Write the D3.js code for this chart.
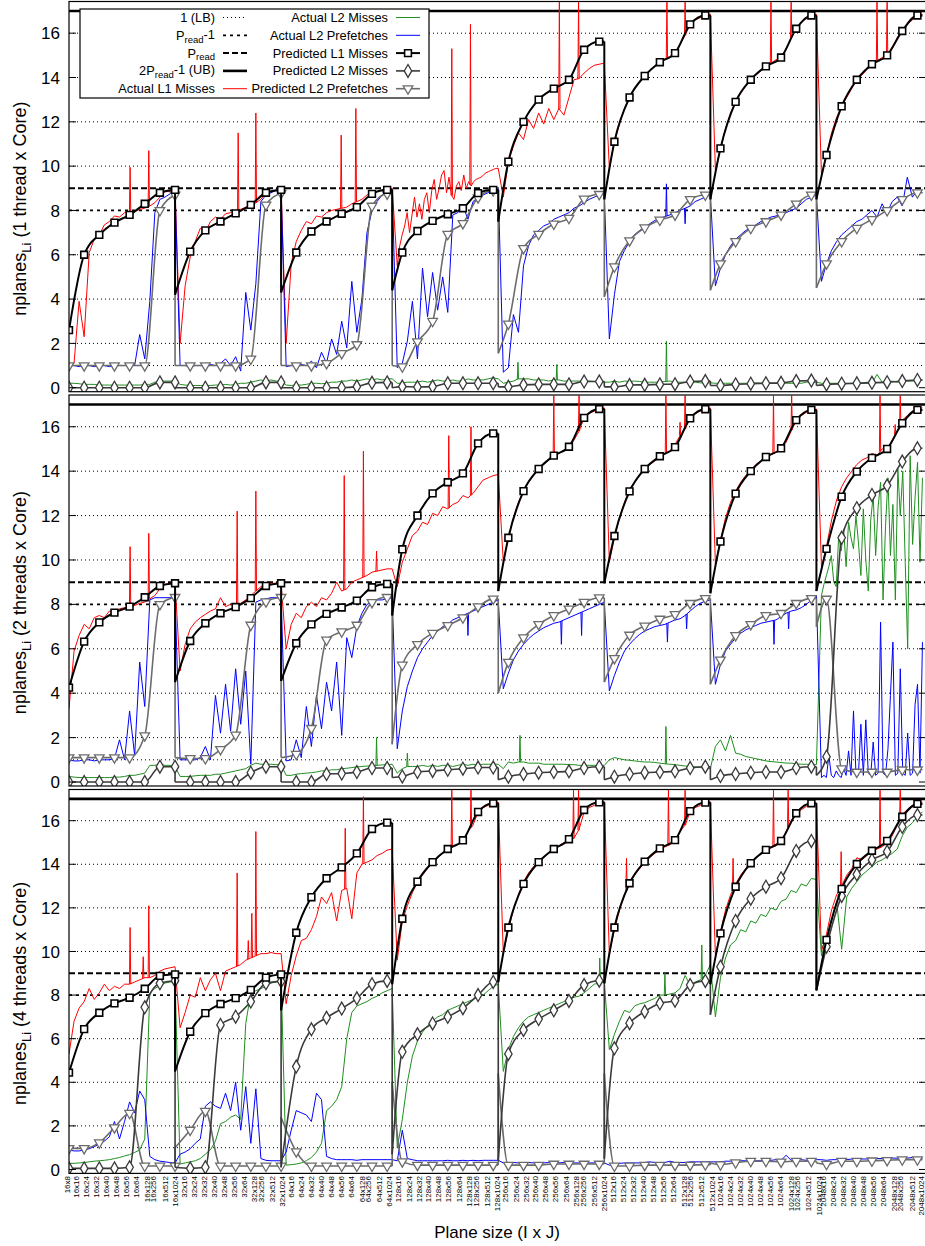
<!DOCTYPE html>
<html>
<head>
<meta charset="utf-8">
<script src="https://cdn.jsdelivr.net/npm/d3@7"></script>
<style>
body { margin: 0; background: #fff; }
text { font-family: "Liberation Sans", Arial, sans-serif; }
</style>
</head>
<body>
<div id="chart"></div>
<script>
const width = 925, height = 1246;

// x axis: plane sizes I x J
const groupsI = [16, 32, 64, 128, 256, 512, 1024, 2048];
const colsJ = [16, 24, 32, 40, 48, 56, 64, 128, 256, 512, 1024];
// sample index of the first labelled size of each I group, offset of each J inside a group
const groupStarts = [1.5, 22.8, 44.0, 65.3, 86.5, 107.8, 129.0, 149.4];
const colOffsets = [0, 2, 4, 5.9, 7.9, 9.9, 11.9, 14, 15.3, 17.5, 19.5];
const firstLabel = { name: '16x8', s: -0.4 };
// sample index where each I group starts / ends
const groupBounds = [0, 21, 42, 64, 85, 106, 127, 148, 169];
const markerStep = 3;

const gridValues = [2, 4, 6, 10, 12, 14, 16];
const yTicks = [0, 2, 4, 6, 8, 10, 12, 14, 16];
const refValues = { lb: 1, pr1: 8, pr: 9, ub: 17 };

// ---------- 1 thread x Core ----------
const t1ActL1 = [
  [1.0, 1.1, 3.9, 2.3, 6.1, 6.7, 6.9, 7.35, 7.5, 7.75, 7.7, 7.9, 7.9, 7.95, 8.05, 8.1, 8.2, 8.35, 8.6, 8.85, 8.85, 8.95],
  [2.0, 4.6, 5.9, 6.6, 7.2, 7.0, 7.5, 7.7, 7.6, 7.85, 7.9, 8.0, 8.05, 8.15, 8.1, 8.35, 8.5, 8.8, 8.85, 8.9, 8.95],
  [2.0, 5.6, 6.6, 7.1, 7.5, 7.4, 7.75, 7.7, 7.9, 8.0, 8.05, 8.1, 8.15, 8.3, 8.4, 8.5, 8.7, 8.8, 8.85, 8.9, 8.95, 9.0],
  [5.5, 6.4, 6.9, 7.3, 7.9, 7.0, 7.8, 8.6, 7.7, 8.3, 7.6, 8.5, 8.8, 7.9, 8.9, 9.4, 8.5, 9.0, 9.6, 9.8, 8.8, 9.5, 8.7, 8.5, 9.1, 9.3, 8.9, 9.6, 9.0, 9.3, 9.1, 9.3, 9.4, 9.45, 9.5, 9.6, 9.7, 9.75, 9.8, 9.85, 9.9, 9.9],
  [8.6, 10.2, 10.9, 11.5, 11.2, 12.1, 11.7, 12.4, 11.9, 12.6, 12.1, 12.6, 12.3, 13.1, 13.9, 13.95, 14.2, 14.4, 14.55, 14.6, 14.65],
  [9.9, 11.1, 11.9, 12.6, 13.1, 13.5, 13.8, 14.07, 14.3, 14.5, 14.69, 14.85, 14.95, 15.1, 15.5, 15.9, 16.4, 16.6, 16.7, 16.8, 16.85],
  [9.8, 10.8, 11.7, 12.4, 12.9, 13.3, 13.6, 13.9, 14.1, 14.3, 14.5, 14.65, 14.8, 14.9, 15.3, 15.8, 16.2, 16.5, 16.65, 16.8, 16.85],
  [9.6, 10.5, 11.5, 12.2, 12.7, 13.1, 13.5, 13.9, 14.1, 14.35, 14.6, 14.75, 14.9, 15.0, 15.3, 15.8, 16.1, 16.4, 16.6, 16.8, 16.85]
];
const t1ActL2m = [
  [0.2, 0.2, 0.18, 0.15, 0.15, 0.15, 0.12, 0.12, 0.12, 0.12, 0.12, 0.12, 0.12, 0.12, 0.12, 0.15, 0.15, 0.25, 0.3, 0.3, 0.3, 0.3],
  [0.15, 0.12, 0.1, 0.1, 0.1, 0.1, 0.1, 0.12, 0.12, 0.15, 0.12, 0.15, 0.2, 0.2, 0.25, 0.3, 0.35, 0.3, 0.35, 0.3, 0.3],
  [0.12, 0.1, 0.12, 0.12, 0.15, 0.2, 0.2, 0.18, 0.2, 0.25, 0.25, 0.3, 0.3, 0.35, 0.3, 0.35, 0.4, 0.35, 0.4, 0.35, 0.4, 0.4],
  [0.2, 0.2, 0.25, 0.25, 0.25, 0.3, 0.25, 0.3, 0.35, 0.3, 0.3, 0.35, 0.3, 0.3, 0.4, 0.35, 0.35, 0.35, 0.4, 0.45, 0.4],
  [0.2, 0.25, 0.3, 0.4, 0.4, 0.4, 0.35, 0.35, 0.35, 0.3, 0.35, 0.35, 0.3, 0.3, 0.3, 0.3, 0.3, 0.3, 0.28, 0.25, 0.25],
  [0.25, 0.3, 0.25, 0.3, 0.28, 0.3, 0.28, 0.25, 0.25, 0.25, 0.25, 0.28, 0.3, 0.25, 0.25, 0.25, 0.25, 0.25, 0.22, 0.22, 0.22],
  [0.2, 0.2, 0.2, 0.2, 0.2, 0.2, 0.2, 0.2, 0.22, 0.2, 0.2, 0.2, 0.2, 0.2, 0.2, 0.2, 0.2, 0.2, 0.25, 0.25, 0.25],
  [0.2, 0.2, 0.2, 0.2, 0.2, 0.2, 0.2, 0.25, 0.2, 0.25, 0.2, 0.6, 0.25, 0.25, 0.3, 0.25, 0.3, 0.3, 0.3, 0.3, 0.35]
];
const t1ActL2p = [
  [1.0, 1.0, 0.95, 1.0, 1.0, 0.95, 1.0, 1.0, 0.95, 1.0, 1.0, 1.0, 1.05, 1.0, 2.4, 1.3, 3.9, 7.9, 8.5, 8.6, 8.75, 8.9],
  [1.0, 1.0, 0.95, 1.0, 1.0, 1.0, 1.05, 1.0, 1.1, 1.3, 1.0, 1.4, 0.75, 4.3, 2.6, 4.7, 8.4, 8.7, 8.8, 8.9, 8.95],
  [0.95, 1.0, 1.0, 1.05, 1.0, 1.2, 0.9, 1.6, 1.1, 2.2, 1.5, 3.0, 1.8, 4.8, 2.5, 4.0, 7.0, 8.0, 8.4, 8.7, 8.85, 8.95],
  [0.9, 1.1, 2.1, 3.9, 1.3, 5.4, 3.2, 5.2, 3.5, 5.0, 3.4, 7.8, 7.9, 8.2, 7.6, 8.4, 8.6, 8.7, 8.8, 8.9, 9.0],
  [0.7, 0.9, 3.3, 2.5, 5.5, 6.4, 6.9, 7.1, 7.3, 7.4, 7.6, 7.7, 7.8, 7.9, 8.1, 8.2, 8.35, 8.5, 8.6, 8.7, 8.75],
  [2.2, 4.2, 5.7, 6.2, 6.6, 6.9, 7.1, 7.25, 7.4, 7.55, 7.65, 7.72, 7.8, 7.9, 8.0, 8.1, 8.2, 8.4, 8.5, 8.6, 8.7],
  [4.6, 5.4, 6.0, 6.4, 6.7, 6.9, 7.1, 7.2, 7.35, 7.5, 7.6, 7.7, 7.75, 7.85, 7.9, 8.0, 8.1, 8.3, 8.5, 8.6, 8.7],
  [4.8, 5.6, 6.2, 6.6, 6.9, 7.1, 7.3, 7.5, 7.6, 7.8, 8.0, 7.7, 8.3, 7.9, 8.4, 8.6, 8.2, 9.5, 8.6, 8.9, 8.8]
];
// narrow spikes: [sample index, peak value]
const t1SpikesL1 = [[12.1, 9.95], [15.8, 10.7], [33.5, 11.5], [37.0, 12.4], [53.9, 11.4], [56.8, 12.6], [75.8, 15.3], [79.5, 16.4], [97.1, 17.4], [100.9, 17.4], [118.4, 17.4], [122.0, 17.4], [139.0, 17.4], [143.0, 17.4], [160.0, 17.4], [162.0, 17.4]];
const t1SpikesL2m = [[88.9, 1.15], [96.6, 1.05], [118.3, 2.1]];
const t1SpikesL2p = [[118.3, 9.2], [122.0, 7.4]];
// predicted: first value at the group start, then one value per marker
const t1PredL1 = [
  [2.6, 2.6, 6.0, 6.9, 7.45, 7.8, 8.3, 8.8, 8.93],
  [4.2, 6.14, 7.1, 7.5, 7.87, 8.25, 8.8, 8.93],
  [4.3, 6.1, 7.05, 7.5, 7.85, 8.15, 8.75, 8.93],
  [4.4, 6.1, 7.07, 7.53, 7.83, 8.1, 8.78, 8.93],
  [7.5, 10.2, 12.0, 13.0, 13.5, 13.9, 15.25, 15.62],
  [8.5, 11.1, 13.1, 14.07, 14.69, 15.1, 16.4, 16.8],
  [8.5, 10.8, 12.9, 13.9, 14.5, 14.9, 16.2, 16.8],
  [8.5, 10.5, 12.7, 13.9, 14.6, 15.0, 16.1, 16.8]
];
const t1PredL2m = [
  [0, 0, 0, 0, 0, 0, 0, 0.24, 0.24],
  [0, 0, 0, 0, 0, 0, 0.24, 0.24],
  [0, 0, 0, 0, 0, 0.05, 0.22, 0.24],
  [0, 0.05, 0.03, 0.05, 0.2, 0.2, 0.2, 0.2],
  [0.04, 0.04, 0.13, 0.15, 0.15, 0.15, 0.28, 0.28],
  [0.04, 0.04, 0.12, 0.13, 0.15, 0.16, 0.28, 0.3],
  [0.1, 0.1, 0.15, 0.18, 0.2, 0.22, 0.3, 0.32],
  [0.1, 0.15, 0.18, 0.2, 0.22, 0.25, 0.3, 0.35]
];
const t1PredL2p = [
  [1, 1, 1, 1, 1, 1, 1, 8.0, 8.7],
  [1.0, 1.0, 1.0, 1.0, 1.0, 1.3, 8.25, 8.78],
  [1.0, 1.0, 1.0, 1.1, 1.55, 1.95, 8.2, 8.75],
  [1.0, 0.95, 2.08, 3.0, 6.93, 7.42, 8.58, 8.9],
  [1.55, 2.88, 6.29, 6.93, 7.39, 7.65, 8.52, 8.73],
  [4.1, 5.46, 6.64, 7.22, 7.57, 7.8, 8.5, 8.7],
  [4.4, 5.6, 6.6, 7.2, 7.5, 7.8, 8.3, 8.7],
  [4.5, 5.6, 6.6, 7.2, 7.6, 8.0, 8.5, 8.8]
];

// ---------- 2 threads x Core ----------
const t2ActL1 = [
  [3.3, 5.9, 6.6, 7.1, 6.9, 7.4, 7.5, 7.4, 7.7, 7.65, 7.8, 7.85, 7.9, 7.95, 8.05, 8.1, 8.25, 8.4, 8.7, 8.9, 8.95, 9.0],
  [5.0, 6.2, 6.9, 7.2, 7.4, 7.55, 7.7, 7.8, 8.3, 7.9, 8.0, 8.0, 8.05, 8.2, 8.4, 8.6, 8.8, 8.9, 8.95, 8.95, 8.95],
  [6.0, 7.1, 7.6, 7.4, 7.9, 8.1, 7.9, 8.3, 8.2, 8.5, 9.0, 8.6, 8.7, 9.0, 9.1, 9.2, 9.3, 9.45, 9.5, 9.55, 9.6, 9.6],
  [8.8, 9.9, 10.5, 11.1, 11.3, 11.7, 11.6, 12.1, 12.0, 12.4, 12.3, 12.5, 12.6, 12.9, 12.8, 13.0, 13.3, 13.6, 13.7, 13.8, 13.85],
  [9.9, 11.0, 11.9, 12.6, 13.1, 13.5, 13.8, 14.1, 14.3, 14.5, 14.65, 14.8, 14.95, 15.1, 15.4, 15.8, 16.4, 16.6, 16.7, 16.8, 16.85],
  [9.9, 11.0, 11.9, 12.6, 13.2, 13.5, 13.8, 14.05, 14.3, 14.45, 14.65, 14.8, 14.9, 15.2, 15.6, 15.9, 16.4, 16.6, 16.7, 16.8, 16.85],
  [9.8, 10.9, 11.9, 12.6, 13.1, 13.5, 13.8, 14.05, 14.3, 14.45, 14.6, 14.75, 14.85, 15.05, 15.3, 15.8, 16.3, 16.5, 16.65, 16.75, 16.8],
  [9.7, 10.6, 11.8, 12.7, 13.3, 13.7, 14.0, 14.3, 14.5, 14.6, 14.8, 14.7, 15.0, 15.0, 15.4, 15.8, 16.3, 16.5, 16.7, 16.8, 16.85]
];
const t2ActL2m = [
  [0.25, 0.22, 0.2, 0.2, 0.2, 0.2, 0.2, 0.2, 0.2, 0.22, 0.22, 0.25, 0.3, 0.3, 0.35, 0.4, 0.75, 0.75, 0.8, 0.75, 0.75, 0.7],
  [0.25, 0.25, 0.25, 0.28, 0.3, 0.3, 0.3, 0.35, 0.35, 0.4, 0.45, 0.5, 0.55, 0.6, 0.75, 0.85, 0.8, 0.8, 0.8, 0.78, 0.78],
  [0.3, 0.3, 0.35, 0.38, 0.4, 0.42, 0.45, 0.5, 0.5, 0.55, 0.55, 0.6, 0.62, 0.65, 0.68, 0.7, 0.72, 0.72, 0.75, 0.77, 0.78, 0.8],
  [0.4, 0.6, 0.7, 0.7, 0.7, 0.75, 0.7, 0.75, 0.7, 0.75, 0.75, 0.7, 0.75, 0.8, 0.75, 0.8, 0.75, 0.8, 0.8, 0.8, 0.8],
  [0.6, 0.9, 0.85, 0.9, 0.9, 0.85, 0.85, 0.85, 0.8, 0.8, 0.8, 0.8, 0.8, 0.78, 0.78, 0.75, 0.75, 0.75, 0.75, 0.75, 0.75],
  [1.0, 1.1, 1.05, 1.0, 0.98, 0.95, 0.92, 0.9, 0.9, 0.88, 0.85, 0.82, 0.8, 0.78, 0.75, 0.72, 0.7, 0.68, 0.65, 0.62, 0.6],
  [1.6, 1.9, 1.4, 2.1, 1.3, 1.25, 1.15, 1.1, 1.05, 1.0, 0.95, 0.92, 0.9, 0.88, 0.85, 0.85, 0.82, 0.8, 0.8, 0.78, 0.78],
  [8.4, 8.9, 9.3, 9.7, 10.2, 9.0, 8.8, 11.1, 10.4, 11.4, 9.7, 11.7, 11.0, 10.5, 12.0, 10.8, 9.3, 12.3, 10.0, 8.6, 11.8,
   12.9, 10.2, 12.4, 13.5, 8.2, 11.5, 13.7, 10.2, 12.5, 8.2, 14.1, 12.0, 14.0, 9.9, 6.0, 14.7, 10.7, 12.8, 14.4, 9.9, 13.7]
];
const t2ActL2p = [
  [1.0, 0.95, 0.95, 1.0, 1.0, 0.95, 1.0, 1.0, 1.0, 1.05, 1.9, 1.0, 3.2, 1.2, 5.4, 3.4, 8.2, 8.3, 8.3, 8.3, 8.3, 8.35],
  [1.0, 1.0, 1.0, 1.0, 1.1, 1.6, 1.0, 3.9, 2.2, 4.4, 2.3, 5.1, 2.6, 5.0, 0.8, 8.1, 8.2, 8.25, 8.3, 8.3, 8.3],
  [0.95, 1.0, 1.9, 1.1, 3.4, 1.6, 3.9, 2.4, 4.5, 3.2, 5.4, 2.1, 6.5, 5.6, 7.0, 7.6, 8.0, 8.1, 8.2, 8.2, 8.25, 8.3],
  [1.5, 3.2, 4.3, 5.0, 5.6, 6.0, 6.3, 6.6, 6.8, 7.0, 7.1, 7.3, 7.4, 7.5, 7.6, 7.7, 7.8, 7.9, 8.0, 8.1, 8.2],
  [4.2, 4.9, 5.5, 5.9, 6.2, 6.45, 6.65, 6.8, 6.95, 7.05, 7.15, 7.2, 7.3, 7.4, 7.5, 7.6, 7.7, 7.8, 7.9, 8.0, 8.1],
  [4.1, 4.8, 5.4, 5.9, 6.2, 6.45, 6.65, 6.8, 6.9, 7.0, 7.05, 7.1, 7.2, 7.3, 7.35, 7.5, 7.7, 7.9, 8.05, 8.15, 8.2],
  [4.4, 5.3, 5.9, 6.2, 6.5, 6.7, 6.85, 6.95, 7.05, 7.15, 7.2, 7.25, 7.3, 7.45, 7.6, 7.7, 7.75, 7.85, 8.0, 8.2, 8.4],
  [0.2, 0.3, 0.2, 1.2, 0.3, 0.2, 0.5, 0.3, 0.2, 0.6, 0.3, 1.4, 0.3, 3.2, 0.4, 0.3, 2.6, 0.3, 2.8, 0.4, 0.3,
   1.8, 0.3, 0.4, 7.2, 0.4, 0.3, 1.5, 3.9, 6.3, 0.3, 0.4, 5.1, 0.4, 0.3, 2.2, 0.3, 0.4, 3.5, 4.4, 0.4, 6.3]
];
const t2SpikesL1 = [[12.1, 10.6], [15.8, 11.2], [33.3, 12.2], [37.0, 13.1], [54.5, 13.8], [58.3, 14.9], [60.9, 10.4], [75.2, 15.6], [79.6, 16.0], [96.0, 17.4], [101.0, 17.4], [118.2, 17.4], [121.0, 16.2], [122.0, 17.4], [139.5, 17.4], [143.1, 17.4], [160.6, 17.4], [163.6, 16.1], [164.6, 17.4]];
const t2SpikesL2m = [[60.9, 2.0], [67.0, 1.3], [89.3, 2.1], [118.2, 2.5]];
const t2SpikesL2p = [[79.0, 6.6], [97.5, 6.2], [101.5, 6.6], [118.5, 6.3], [122.3, 6.9], [139.6, 6.2], [142.5, 6.9]];
const t2PredL1 = [
  [4.25, 4.25, 6.32, 7.19, 7.63, 7.9, 8.32, 8.83, 8.95],
  [4.5, 6.35, 7.15, 7.6, 7.88, 8.28, 8.83, 8.95],
  [4.55, 6.25, 7.1, 7.57, 7.86, 8.17, 8.77, 8.92],
  [7.5, 10.48, 12.0, 13.0, 13.5, 13.9, 15.25, 15.7],
  [8.6, 11.0, 13.1, 14.1, 14.7, 15.1, 16.4, 16.8],
  [8.95, 11.08, 13.09, 14.1, 14.67, 15.08, 16.38, 16.79],
  [8.5, 10.83, 12.99, 14.0, 14.64, 15.03, 16.3, 16.76],
  [8.6, 10.5, 12.85, 13.98, 14.6, 15.0, 16.16, 16.76]
];
const t2PredL2m = [
  [0, 0, 0, 0, 0, 0, 0, 0.69, 0.69],
  [0, 0, 0, 0, 0, 0.42, 0.69, 0.69],
  [0, 0, 0, 0.36, 0.38, 0.45, 0.63, 0.63],
  [0.2, 0.25, 0.45, 0.5, 0.55, 0.6, 0.65, 0.65],
  [0.1, 0.24, 0.36, 0.42, 0.45, 0.48, 0.63, 0.69],
  [0.1, 0.24, 0.36, 0.42, 0.45, 0.48, 0.63, 0.69],
  [0.1, 0.27, 0.36, 0.42, 0.45, 0.45, 0.63, 0.69],
  [0.3, 1.14, 11.0, 12.33, 12.93, 13.35, 14.43, 15.03]
];
const t2PredL2p = [
  [1.1, 1.1, 1.1, 1.1, 1.1, 1.1, 2.09, 8.0, 8.32],
  [1.1, 1.06, 1.06, 1.47, 2.12, 7.07, 8.12, 8.32],
  [1.1, 1.25, 2.42, 6.4, 6.77, 7.07, 8.09, 8.32],
  [1.7, 5.27, 6.2, 6.7, 7.05, 7.4, 7.9, 8.25],
  [4.0, 5.4, 6.5, 7.1, 7.5, 7.8, 8.1, 8.3],
  [4.5, 5.57, 6.62, 7.03, 7.34, 7.55, 8.05, 8.27],
  [4.4, 5.5, 6.6, 7.1, 7.5, 7.6, 8.05, 8.27],
  [7.0, 8.24, 0.6, 0.45, 0.45, 0.45, 0.55, 0.55]
];

// ---------- 4 threads x Core ----------
const t4ActL1 = [
  [5.3, 6.8, 7.4, 7.7, 8.3, 7.8, 8.1, 8.5, 8.2, 8.4, 8.3, 8.5, 8.5, 8.6, 8.7, 8.8, 8.8, 8.9, 9.1, 9.2, 9.25, 9.3],
  [6.5, 7.2, 8.0, 7.9, 8.8, 8.2, 8.7, 9.0, 8.2, 9.1, 9.2, 9.3, 9.4, 9.6, 9.7, 9.8, 9.9, 9.9, 9.95, 9.9, 9.9],
  [7.6, 8.9, 9.8, 10.5, 10.6, 11.0, 11.6, 12.5, 12.2, 12.7, 11.4, 12.8, 12.9, 11.5, 13.6, 14.0, 14.1, 14.2, 14.4, 14.5, 14.65, 14.7],
  [9.6, 11.4, 12.1, 12.7, 13.2, 13.5, 13.8, 14.1, 14.3, 14.5, 14.7, 14.8, 14.9, 15.1, 15.5, 15.8, 16.4, 16.6, 16.7, 16.8, 16.85],
  [9.9, 11.0, 11.9, 12.6, 13.2, 13.6, 13.9, 14.1, 14.3, 14.5, 14.7, 14.85, 15.0, 15.05, 15.2, 15.6, 16.4, 16.6, 16.7, 16.8, 16.85],
  [9.9, 11.0, 11.9, 12.6, 13.1, 13.5, 13.8, 14.1, 14.3, 14.5, 14.65, 14.8, 14.9, 15.1, 15.5, 15.8, 16.4, 16.6, 16.7, 16.8, 16.85],
  [9.8, 10.9, 11.9, 12.6, 13.1, 13.5, 13.8, 14.05, 14.3, 14.45, 14.6, 14.75, 14.85, 15.05, 15.5, 16.0, 16.3, 16.5, 16.65, 16.75, 16.8],
  [10.0, 10.8, 11.9, 12.6, 13.0, 13.5, 13.8, 14.3, 14.2, 14.4, 14.6, 14.7, 14.8, 15.0, 15.3, 15.8, 16.3, 16.5, 16.7, 16.8, 16.85]
];
const t4ActL2m = [
  [0.28, 0.28, 0.3, 0.32, 0.35, 0.38, 0.4, 0.42, 0.45, 0.5, 0.55, 0.62, 0.68, 0.78, 0.9, 1.4, 8.1, 8.3, 8.45, 8.55, 8.6, 8.6],
  [0.25, 0.3, 0.35, 0.4, 0.5, 0.7, 0.9, 1.3, 2.1, 2.2, 2.4, 2.5, 2.3, 6.7, 8.1, 8.2, 8.3, 8.4, 8.55, 8.6, 8.7],
  [0.2, 0.22, 0.25, 0.3, 0.4, 0.55, 0.8, 1.2, 2.7, 2.9, 3.2, 3.8, 6.0, 7.2, 7.5, 7.6, 7.7, 7.85, 7.95, 8.1, 8.2, 8.3],
  [1.0, 2.3, 4.0, 5.2, 5.9, 6.3, 6.6, 6.8, 7.0, 7.1, 7.3, 7.4, 7.5, 7.6, 7.7, 7.8, 7.9, 8.0, 8.2, 8.4, 8.5],
  [4.5, 5.5, 6.1, 6.5, 6.8, 7.0, 7.1, 7.2, 7.3, 7.4, 7.5, 7.6, 7.7, 7.8, 7.9, 7.95, 8.1, 8.3, 8.5, 8.55, 8.6],
  [5.5, 6.2, 6.8, 7.3, 7.2, 7.5, 7.6, 7.65, 7.75, 7.85, 8.0, 8.0, 8.05, 8.1, 8.3, 8.9, 8.45, 8.6, 8.7, 8.9, 9.4],
  [7.0, 8.8, 9.7, 10.3, 10.5, 11.0, 10.9, 11.4, 11.3, 11.7, 11.6, 12.0, 11.9, 12.3, 12.4, 12.8, 12.7, 13.1, 13.0, 13.35, 13.3],
  [9.8, 10.6, 11.4, 12.3, 10.1, 12.5, 12.9, 13.2, 13.5, 13.7, 13.9, 14.1, 14.2, 14.35, 14.5, 14.7, 15.3, 15.7, 15.9, 16.2, 16.4]
];
const t4ActL2p = [
  [0.9, 0.85, 0.85, 0.9, 0.95, 1.05, 1.15, 1.3, 1.5, 2.2, 1.4, 2.2, 3.1, 2.6, 3.6, 3.2, 0.6, 0.45, 0.38, 0.35, 0.32, 0.3],
  [0.7, 0.8, 0.95, 1.2, 1.4, 2.9, 3.1, 2.9, 2.8, 3.5, 2.7, 4.0, 1.8, 3.8, 1.2, 3.7, 0.5, 0.42, 0.4, 0.4, 0.4],
  [0.8, 1.8, 2.7, 2.6, 2.5, 2.2, 3.5, 3.2, 0.6, 0.5, 0.45, 0.45, 0.45, 0.45, 0.42, 0.45, 0.45, 0.45, 0.45, 0.45, 0.45, 0.45],
  [0.4, 1.8, 0.5, 0.45, 0.4, 0.4, 0.4, 0.4, 0.4, 0.4, 0.42, 0.4, 0.4, 0.42, 0.4, 0.42, 0.4, 0.42, 0.42, 0.42, 0.42],
  [0.3, 0.3, 0.32, 0.3, 0.3, 0.32, 0.3, 0.3, 0.3, 0.32, 0.3, 0.3, 0.32, 0.3, 0.3, 0.3, 0.32, 0.3, 0.3, 0.3, 0.3],
  [0.2, 0.15, 0.28, 0.3, 0.3, 0.3, 0.3, 0.32, 0.35, 0.32, 0.3, 0.32, 0.38, 0.32, 0.32, 0.32, 0.35, 0.35, 0.35, 0.35, 0.35],
  [0.35, 0.35, 0.38, 0.38, 0.38, 0.4, 0.4, 0.4, 0.4, 0.4, 0.42, 0.42, 0.45, 0.42, 0.65, 0.42, 0.42, 0.45, 0.42, 0.45, 0.45],
  [0.45, 0.42, 0.45, 0.45, 0.45, 0.45, 0.48, 0.48, 0.48, 0.48, 0.5, 0.5, 0.5, 0.5, 0.52, 0.52, 0.5, 0.52, 0.55, 0.52, 0.52]
];
const t4SpikesL1 = [[12.1, 11.1], [14.7, 9.76], [15.8, 12.1], [33.3, 13.6], [35.5, 10.5], [36.2, 11.75], [37.0, 15.5], [54.7, 15.65], [58.3, 17.1], [75.8, 17.4], [79.6, 17.4], [99.9, 17.4], [100.9, 17.4], [110.4, 14.27], [118.7, 17.4], [122.0, 17.4], [131.5, 14.27], [139.5, 17.4], [142.4, 17.4], [152.9, 14.58], [156.6, 14.27], [160.6, 17.4], [164.6, 17.4]];
const t4SpikesL2m = [[105.1, 9.7], [118.0, 9.0], [125.3, 10.3]];
const t4SpikesL2p = [];
const t4PredL1 = [
  [4.44, 4.44, 6.44, 7.19, 7.62, 7.88, 8.29, 8.88, 8.95],
  [4.5, 6.32, 7.17, 7.59, 7.86, 8.24, 8.8, 8.95],
  [7.3, 10.86, 12.49, 13.36, 13.86, 14.5, 15.62, 15.91],
  [8.5, 11.5, 13.2, 14.1, 14.7, 15.1, 16.4, 16.8],
  [8.6, 11.1, 13.1, 14.1, 14.7, 15.15, 16.49, 16.84],
  [8.54, 11.1, 13.13, 14.12, 14.73, 15.11, 16.44, 16.83],
  [8.5, 10.83, 12.97, 14.05, 14.66, 15.07, 16.34, 16.8],
  [8.23, 10.53, 12.87, 14.01, 14.62, 15.07, 16.18, 16.77]
];
const t4PredL2m = [
  [0.05, 0.05, 0.05, 0.05, 0.05, 0.1, 7.44, 8.54, 8.66],
  [0.1, 0.05, 0.1, 6.63, 7.01, 7.7, 8.54, 8.63],
  [0.1, 4.72, 6.43, 6.96, 7.38, 7.85, 8.5, 8.65],
  [0.7, 5.4, 6.2, 6.7, 7.0, 7.4, 8.0, 8.6],
  [0.4, 5.3, 6.4, 6.9, 7.3, 7.73, 8.46, 8.66],
  [0.5, 5.56, 6.71, 7.24, 7.62, 7.74, 8.46, 8.65],
  [7.1, 9.3, 11.4, 12.42, 12.97, 13.36, 14.61, 15.07],
  [8.2, 10.22, 12.55, 13.54, 14.2, 14.58, 15.72, 16.26]
];
const t4PredL2p = [
  [0.97, 0.97, 0.97, 1.23, 1.92, 2.58, 0.16, 0.16, 0.16],
  [1.0, 1.81, 2.68, 0.16, 0.16, 0.16, 0.16, 0.16],
  [2.4, 0.82, 0.16, 0.16, 0.16, 0.16, 0.16, 0.16],
  [4.0, 0.36, 0.2, 0.2, 0.2, 0.2, 0.2, 0.2],
  [4.4, 0.2, 0.2, 0.2, 0.25, 0.25, 0.25, 0.25],
  [4.4, 0.16, 0.16, 0.2, 0.2, 0.2, 0.2, 0.22],
  [0.3, 0.22, 0.31, 0.38, 0.38, 0.35, 0.38, 0.38],
  [0.3, 0.24, 0.38, 0.38, 0.4, 0.42, 0.45, 0.45]
];

// ---------- layout ----------
const panels = [
  { title: '(1 thread x Core)', top: 1.5, bottom: 391.7,
    act: [t1ActL1, t1ActL2m, t1ActL2p], spikes: [t1SpikesL1, t1SpikesL2m, t1SpikesL2p], pred: [t1PredL1, t1PredL2m, t1PredL2p] },
  { title: '(2 threads x Core)', top: 395, bottom: 786,
    act: [t2ActL1, t2ActL2m, t2ActL2p], spikes: [t2SpikesL1, t2SpikesL2m, t2SpikesL2p], pred: [t2PredL1, t2PredL2m, t2PredL2p] },
  { title: '(4 threads x Core)', top: 789.5, bottom: 1173.4,
    act: [t4ActL1, t4ActL2m, t4ActL2p], spikes: [t4SpikesL1, t4SpikesL2m, t4SpikesL2p], pred: [t4PredL1, t4PredL2m, t4PredL2p] }
];
const yDomain = [-0.18, 17.43];
const actStyles = [
  { color: '#ff0000', w: 1 },
  { color: '#1f8f1f', w: 1 },
  { color: '#0000ff', w: 1 }
];
const predStyles = [
  { color: '#000000', w: 2, symbol: 'square' },
  { color: '#3a3a3a', w: 1.6, symbol: 'diamond' },
  { color: '#6c6c6c', w: 1.6, symbol: 'triangle' }
];
const refStyles = {
  lb: { dash: '1,3', w: 1 },
  pr1: { dash: '3,4', w: 1.8 },
  pr: { dash: '6,3', w: 2 },
  ub: { dash: null, w: 2.6 }
};

const x = d3.scaleLinear().domain([0, 169.7]).range([69, 926]);

const svg = d3.select('#chart').append('svg')
  .attr('width', width)
  .attr('height', height);

function actualPoints(groups) {
  let pts = [];
  groups.forEach((vals, g) => {
    const s0 = g === 0 ? groupBounds[0] : groupBounds[g] + 1;
    const s1 = groupBounds[g + 1];
    vals.forEach((v, i) => pts.push([s0 + (s1 - s0) * i / (vals.length - 1), v]));
  });
  return pts;
}

function valueAt(pts, s) {
  for (let i = 0; i < pts.length - 1; i++) {
    if (pts[i][0] <= s && pts[i + 1][0] >= s) {
      const t = (s - pts[i][0]) / (pts[i + 1][0] - pts[i][0]);
      return pts[i][1] + t * (pts[i + 1][1] - pts[i][1]);
    }
  }
  return pts[pts.length - 1][1];
}

function markerIndices(g) {
  let out = [];
  for (let s = 0; s <= groupBounds[8]; s += markerStep) {
    if (g === 0 ? s <= groupBounds[1] : (s > groupBounds[g] && s <= groupBounds[g + 1])) out.push(s);
  }
  return out;
}

function predSegments(groups) {
  return groups.map((vals, g) => {
    const ms = markerIndices(g);
    const markers = ms.slice(0, vals.length - 1).map((s, i) => [s, vals[i + 1]]);
    let line = [];
    if (ms[0] !== groupBounds[g]) line.push([groupBounds[g], vals[0]]);
    line = line.concat(markers);
    const last = markers[markers.length - 1];
    if (last[0] < groupBounds[g + 1]) line.push([groupBounds[g + 1], last[1]]);
    return { line: line, markers: markers };
  });
}

function symbolPath(kind) {
  if (kind === 'square') return d3.symbol().type(d3.symbolSquare).size(46)();
  if (kind === 'diamond') return d3.symbol().type(d3.symbolDiamond).size(48)();
  return d3.symbol().type(d3.symbolTriangle).size(40)();
}

function drawMarker(sel, kind, color, cx, cy) {
  sel.append('path')
    .attr('d', symbolPath(kind))
    .attr('transform', `translate(${cx},${cy})` + (kind === 'triangle' ? ' rotate(180)' : ''))
    .attr('fill', '#fff')
    .attr('stroke', color)
    .attr('stroke-width', kind === 'square' ? 1.6 : 1.3);
}

panels.forEach((p, pi) => {
  const y = d3.scaleLinear().domain(yDomain).range([p.bottom, p.top]);
  const clipId = 'clip' + pi;
  svg.append('clipPath').attr('id', clipId).append('rect')
    .attr('x', x.range()[0])
    .attr('y', p.top)
    .attr('width', x.range()[1] - x.range()[0])
    .attr('height', p.bottom - p.top);

  const plot = svg.append('g').attr('clip-path', `url(#${clipId})`);

  // grid
  plot.selectAll('.grid')
    .data(gridValues)
    .enter()
    .append('line')
    .attr('x1', x.range()[0]).attr('x2', x.range()[1])
    .attr('y1', d => y(d)).attr('y2', d => y(d))
    .attr('stroke', '#000')
    .attr('stroke-width', 1)
    .attr('stroke-dasharray', '1,3');

  // reference lines
  Object.keys(refValues).forEach(k => {
    plot.append('line')
      .attr('x1', x.range()[0]).attr('x2', x.range()[1])
      .attr('y1', y(refValues[k])).attr('y2', y(refValues[k]))
      .attr('stroke', '#000')
      .attr('stroke-width', refStyles[k].w)
      .attr('stroke-dasharray', refStyles[k].dash);
  });

  // measured series with their narrow spikes
  const line = d3.line().x(d => x(d[0])).y(d => y(d[1]));
  p.act.forEach((series, i) => {
    const pts = actualPoints(series);
    plot.append('path')
      .datum(pts)
      .attr('fill', 'none')
      .attr('stroke', actStyles[i].color)
      .attr('stroke-width', actStyles[i].w)
      .attr('stroke-linejoin', 'round')
      .attr('d', line);
    p.spikes[i].forEach(([s, v]) => {
      const base = valueAt(pts, s);
      plot.append('path')
        .datum([[s - 0.13, base], [s, v], [s + 0.13, base]])
        .attr('fill', 'none')
        .attr('stroke', actStyles[i].color)
        .attr('stroke-width', actStyles[i].w)
        .attr('d', line);
    });
  });

  // predicted series, drawn from last to first so L1 stays on top
  const curve = d3.line().x(d => x(d[0])).y(d => y(d[1])).curve(d3.curveMonotoneX);
  [2, 1, 0].forEach(i => {
    const st = predStyles[i];
    const segs = predSegments(p.pred[i]);
    const gp = plot.append('g');
    segs.forEach((seg, g) => {
      gp.append('path')
        .datum(seg.line)
        .attr('fill', 'none')
        .attr('stroke', st.color)
        .attr('stroke-width', st.w)
        .attr('d', curve);
      if (g > 0) {
        const prev = segs[g - 1].line;
        gp.append('line')
          .attr('x1', x(groupBounds[g])).attr('x2', x(groupBounds[g]))
          .attr('y1', y(prev[prev.length - 1][1]))
          .attr('y2', y(seg.line[0][1]))
          .attr('stroke', st.color)
          .attr('stroke-width', st.w);
      }
    });
    segs.forEach(seg => {
      seg.markers.forEach(m => drawMarker(gp, st.symbol, st.color, x(m[0]), y(m[1])));
    });
  });

  // frame
  svg.append('rect')
    .attr('x', x.range()[0]).attr('y', p.top)
    .attr('width', x.range()[1] - x.range()[0])
    .attr('height', p.bottom - p.top)
    .attr('fill', 'none')
    .attr('stroke', '#000')
    .attr('stroke-width', 1.2);

  // y ticks (left and mirrored right)
  yTicks.forEach(v => {
    svg.append('line')
      .attr('x1', x.range()[0]).attr('x2', x.range()[0] + 7)
      .attr('y1', y(v)).attr('y2', y(v))
      .attr('stroke', '#000').attr('stroke-width', 1);
    svg.append('line')
      .attr('x1', x.range()[1] - 7).attr('x2', x.range()[1])
      .attr('y1', y(v)).attr('y2', y(v))
      .attr('stroke', '#000').attr('stroke-width', 1);
    svg.append('text')
      .attr('x', 60)
      .attr('y', y(v))
      .attr('dy', '0.36em')
      .attr('text-anchor', 'end')
      .attr('font-size', 17)
      .attr('fill', '#000')
      .text(v);
  });

  // y title
  const yt = svg.append('text')
    .attr('transform', `translate(26,${(p.top + p.bottom) / 2 + 12}) rotate(-90)`)
    .attr('text-anchor', 'middle')
    .attr('font-size', 18)
    .attr('fill', '#000');
  yt.append('tspan').text('nplanes');
  yt.append('tspan').attr('font-size', 13).attr('dy', '0.35em').text('Li');
  yt.append('tspan').attr('dy', '-0.27em').text(' ' + p.title);
});

// x tick labels
let xLabels = [firstLabel];
groupsI.forEach((I, g) => {
  colsJ.forEach((J, j) => xLabels.push({ name: I + 'x' + J, s: groupStarts[g] + colOffsets[j] }));
});
svg.selectAll('.xlab')
  .data(xLabels)
  .enter()
  .append('text')
  .attr('transform', d => `translate(${Math.min(x(d.s), 921)},1176) rotate(-90)`)
  .attr('text-anchor', 'end')
  .attr('dy', '0.33em')
  .attr('font-size', 8)
  .attr('fill', '#000')
  .text(d => d.name);

svg.append('text')
  .attr('x', 497)
  .attr('y', 1238)
  .attr('text-anchor', 'middle')
  .attr('font-size', 17)
  .attr('fill', '#000')
  .text('Plane size (I x J)');

// legend
const legendLeft = [
  { parts: [['1 (LB)', 0]], ref: 'lb' },
  { parts: [['P', 0], ['read', 1], ['-1', 0]], ref: 'pr1' },
  { parts: [['P', 0], ['read', 1]], ref: 'pr' },
  { parts: [['2P', 0], ['read', 1], ['-1 (UB)', 0]], ref: 'ub' },
  { parts: [['Actual L1 Misses', 0]], act: 0 }
];
const legendRight = [
  { parts: [['Actual L2 Misses', 0]], act: 1 },
  { parts: [['Actual L2 Prefetches', 0]], act: 2 },
  { parts: [['Predicted L1 Misses', 0]], pred: 0 },
  { parts: [['Predicted L2 Misses', 0]], pred: 1 },
  { parts: [['Predicted L2 Prefetches', 0]], pred: 2 }
];
const lg = svg.append('g');
lg.append('rect')
  .attr('x', 80).attr('y', 9)
  .attr('width', 349).attr('height', 89)
  .attr('fill', '#fff')
  .attr('stroke', '#000')
  .attr('stroke-width', 1.2);

function legendColumn(items, textX, sampleX) {
  items.forEach((it, i) => {
    const ry = 17.5 + i * 17.8;
    const t = lg.append('text')
      .attr('x', textX).attr('y', ry)
      .attr('dy', '0.35em')
      .attr('text-anchor', 'end')
      .attr('font-size', 12.8)
      .attr('fill', '#000');
    let sub = false;
    it.parts.forEach(([txt, isSub]) => {
      const ts = t.append('tspan').text(txt);
      if (isSub && !sub) { ts.attr('font-size', 9.5).attr('dy', '0.3em'); sub = true; }
      else if (!isSub && sub) { ts.attr('dy', '-0.3em'); sub = false; }
    });
    const x1 = sampleX, x2 = sampleX + 24;
    if (it.ref) {
      lg.append('line')
        .attr('x1', x1).attr('x2', x2).attr('y1', ry).attr('y2', ry)
        .attr('stroke', '#000')
        .attr('stroke-width', refStyles[it.ref].w)
        .attr('stroke-dasharray', refStyles[it.ref].dash);
    } else if (it.act !== undefined) {
      lg.append('line')
        .attr('x1', x1).attr('x2', x2).attr('y1', ry).attr('y2', ry)
        .attr('stroke', actStyles[it.act].color)
        .attr('stroke-width', actStyles[it.act].w);
    } else {
      const st = predStyles[it.pred];
      lg.append('line')
        .attr('x1', x1).attr('x2', x2).attr('y1', ry).attr('y2', ry)
        .attr('stroke', st.color)
        .attr('stroke-width', st.w);
      drawMarker(lg, st.symbol, st.color, (x1 + x2) / 2, ry);
    }
  });
}
legendColumn(legendLeft, 215, 223);
legendColumn(legendRight, 388, 396);
</script>
</body>
</html>
